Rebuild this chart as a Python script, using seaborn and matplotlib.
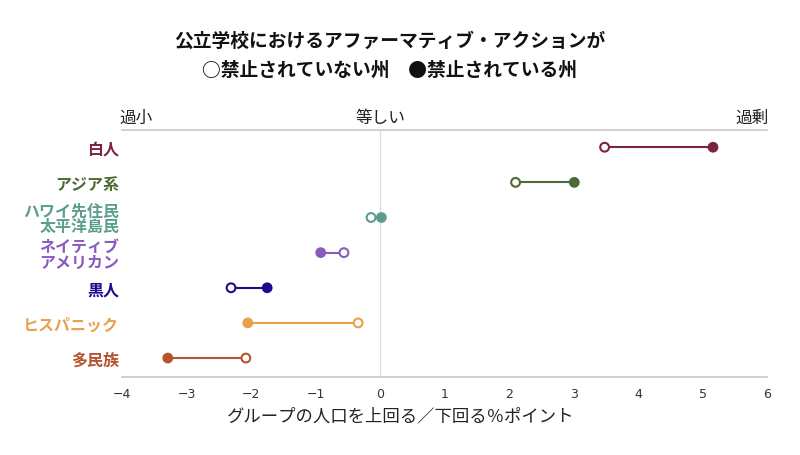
import matplotlib
matplotlib.use("Agg")
import matplotlib.pyplot as plt
import seaborn as sns
import pandas as pd

groups = ["白人", "アジア系", "ハワイ先住民\n太平洋島民", "ネイティブ\nアメリカン", "黒人", "ヒスパニック", "多民族"]
not_banned = [3.48, 2.10, -0.14, -0.56, -2.31, -0.34, -2.08]
banned = [5.16, 3.01, 0.02, -0.92, -1.75, -2.05, -3.29]
colors = ["#7b2342", "#4b6b36", "#5b9e8d", "#8a5bbf", "#1b0c8c", "#e9a04c", "#b5542f"]
xticks = [-4, -3, -2, -1, 0, 1, 2, 3, 4, 5, 6]
title_lines = ["公立学校におけるアファーマティブ・アクションが", "○禁止されていない州　●禁止されている州"]
top_labels = ["過小", "等しい", "過剰"]
xlabel = "グループの人口を上回る／下回る％ポイント"

sns.set_theme(style="white")
plt.rcParams["font.family"] = ["Noto Sans CJK JP", "DejaVu Sans"]

df = pd.DataFrame({"group": groups, "not_banned": not_banned, "banned": banned, "color": colors})
df["pos"] = range(len(df))

fig = plt.figure(figsize=(8, 4.56), dpi=100)
ax = fig.add_axes([0.1525, 0.171, 0.8065, 0.5417])

ax.axvline(0, color="#dddddd", lw=0.9, zorder=0)
ax.hlines(df["pos"], df["not_banned"], df["banned"], colors=df["color"], lw=1.5, zorder=1)

pal = dict(zip(groups, colors))
sns.scatterplot(data=df, x="banned", y="pos", hue="group", palette=pal, s=60,
                edgecolor=None, linewidth=0, legend=False, ax=ax, zorder=3)
sns.scatterplot(data=df, x="not_banned", y="pos", s=40, color="white",
                edgecolor=df["color"], linewidth=1.5, legend=False, ax=ax, zorder=3)

ax.set_xlim(-4, 6)
ax.set_ylim(6.54, -0.49)
ax.set_xticks(xticks)
ax.set_xticklabels([("−" + str(abs(t))) if t < 0 else str(t) for t in xticks],
                   fontsize=9, color="#333333", family=["Liberation Sans Narrow", "DejaVu Sans"])
ax.tick_params(axis="x", length=0, pad=7)
ax.set_yticks(df["pos"])
ax.set_yticklabels(groups, fontsize=11.5, fontweight="bold", linespacing=0.95)
for lab, c in zip(ax.get_yticklabels(), colors):
    lab.set_color(c)
ax.tick_params(axis="y", length=0, pad=2)
ax.set_xlabel(xlabel, fontsize=12.5, color="#222222", labelpad=5, x=0.4326)
ax.set_ylabel("")
for s in ["left", "right"]:
    ax.spines[s].set_visible(False)
for s in ["top", "bottom"]:
    ax.spines[s].set_color("#c8c8c8")
    ax.spines[s].set_linewidth(1.2)

ax.text(-3.78, -0.6, top_labels[0], ha="center", va="bottom", fontsize=12, color="#222222")
ax.text(0, -0.6, top_labels[1], ha="center", va="bottom", fontsize=12, color="#222222")
ax.text(5.76, -0.6, top_labels[2], ha="center", va="bottom", fontsize=12, color="#222222")

fig.text(0.487, 0.910, title_lines[0], ha="center", va="center", fontsize=13.5, fontweight="bold", color="#111111")
fig.text(0.487, 0.845, title_lines[1], ha="center", va="center", fontsize=13.5, fontweight="bold", color="#111111")

fig.savefig("out.png", dpi=100)
